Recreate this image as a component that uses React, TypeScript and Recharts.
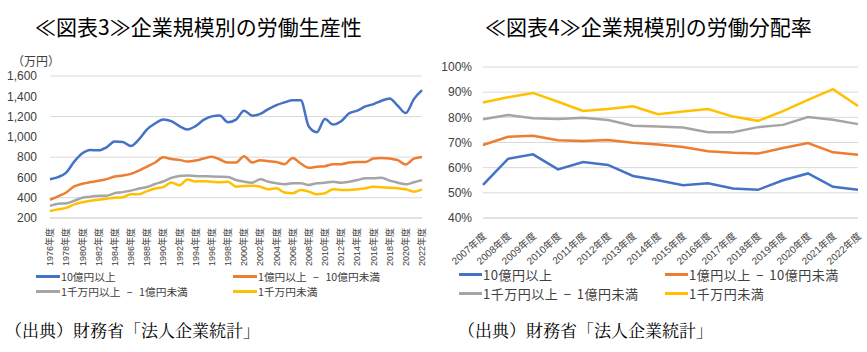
import React from 'react';
import { LineChart, Line, XAxis, YAxis, CartesianGrid } from 'recharts';

const seriesNames = ['10億円以上', '1億円以上 − 10億円未満', '1千万円以上 − 1億円未満', '1千万円未満'];
const seriesColors = ['#4472C4', '#ED7D31', '#A5A5A5', '#FFC000'];

// Chart 3: labour productivity (万円)
const years3 = [
  1976, 1977, 1978, 1979, 1980, 1981, 1982, 1983, 1984, 1985, 1986, 1987, 1988, 1989, 1990, 1991,
  1992, 1993, 1994, 1995, 1996, 1997, 1998, 1999, 2000, 2001, 2002, 2003, 2004, 2005, 2006, 2007,
  2008, 2009, 2010, 2011, 2012, 2013, 2014, 2015, 2016, 2017, 2018, 2019, 2020, 2021, 2022,
];
const large3 = [
  583, 603, 648, 756, 838, 871, 867, 897, 953, 949, 910, 975, 1073, 1132, 1172, 1155,
  1106, 1073, 1106, 1167, 1202, 1210, 1144, 1170, 1258, 1209, 1226, 1274, 1313, 1340, 1362, 1362,
  1102, 1046, 1177, 1121, 1154, 1232, 1258, 1300, 1323, 1356, 1379, 1307, 1235, 1372, 1460,
];
const mid3 = [
  380, 413, 452, 511, 537, 554, 567, 583, 609, 619, 635, 668, 707, 747, 799, 782,
  773, 756, 766, 786, 803, 777, 747, 747, 809, 747, 770, 760, 753, 731, 792, 737,
  695, 705, 711, 731, 731, 747, 753, 753, 786, 792, 786, 770, 727, 786, 802,
];
const small3 = [
  320, 340, 345, 370, 400, 410, 420, 420, 445, 455, 470, 490, 505, 535, 560, 595,
  615, 620, 615, 612, 610, 607, 604, 574, 558, 548, 581, 558, 542, 532, 542, 542,
  526, 542, 548, 558, 548, 558, 574, 591, 591, 597, 568, 548, 532, 552, 574,
];
const tiny3 = [
  270, 285, 300, 335, 355, 370, 380, 390, 400, 405, 435, 435, 465, 490, 505, 550,
  522, 580, 560, 563, 558, 552, 558, 509, 516, 519, 509, 483, 493, 451, 444, 477,
  460, 434, 444, 483, 477, 477, 483, 493, 509, 503, 499, 493, 483, 460, 483,
];
const ticks3 = [200, 400, 600, 800, 1000, 1200, 1400, 1600];

// Chart 4: labour share (%)
const years4 = [2007, 2008, 2009, 2010, 2011, 2012, 2013, 2014, 2015, 2016, 2017, 2018, 2019, 2020, 2021, 2022];
const large4 = [53.2, 63.5, 65.3, 59.3, 62.2, 61.1, 56.7, 55.0, 53.0, 53.8, 51.7, 51.2, 55.0, 57.7, 52.4, 51.2];
const mid4 = [69.0, 72.3, 72.7, 70.9, 70.6, 71.0, 69.9, 69.2, 68.2, 66.5, 65.9, 65.6, 67.8, 69.8, 66.1, 65.1];
const small4 = [79.2, 80.9, 79.6, 79.3, 79.8, 78.9, 76.7, 76.4, 76.0, 74.1, 74.1, 76.1, 77.0, 80.1, 79.0, 77.3];
const tiny4 = [85.9, 88.0, 89.7, 86.2, 82.5, 83.3, 84.4, 81.2, 82.3, 83.3, 80.3, 78.6, 82.5, 86.9, 91.2, 84.5];
const ticks4 = [40, 50, 60, 70, 80, 90, 100];

const data3 = years3.map((y, i) => ({ label: `${y}年度`, s0: large3[i], s1: mid3[i], s2: small3[i], s3: tiny3[i] }));
const data4 = years4.map((y, i) => ({ label: `${y}年度`, s0: large4[i], s1: mid4[i], s2: small4[i], s3: tiny4[i] }));

const SANS = '"Liberation Sans", Arial, "Noto Sans CJK JP", sans-serif';
const CJK = '"Noto Sans CJK JP", sans-serif';

const VTick = (props: any) => {
  const { x, y, payload } = props;
  return (
    <g transform={`translate(${x},${y + 2})`}>
      <text transform="rotate(-90)" textAnchor="end" dy="0.35em" fontSize={9} fill="#404040" fontFamily={SANS}>
        {payload.value}
      </text>
    </g>
  );
};

const DTick = (props: any) => {
  const { x, y, payload } = props;
  return (
    <g transform={`translate(${x + 4},${y + 11})`}>
      <text transform="rotate(-42)" textAnchor="end" fontSize={10} fill="#404040" fontFamily={SANS}>
        {payload.value}
      </text>
    </g>
  );
};

type LegendProps = {
  left: number;
  colX: number[];
  rowY: number[];
  fontSize: number;
  markerW: number;
  wordSpacing: number;
  letterSpacing: number;
};
const HtmlLegend = ({ left, colX, rowY, fontSize, markerW, wordSpacing, letterSpacing }: LegendProps) => (
  <>
    {seriesNames.map((n, i) => (
      <div
        key={n}
        style={{
          position: 'absolute',
          left: left + colX[i % 2],
          top: rowY[Math.floor(i / 2)] - fontSize * 0.55,
          height: fontSize * 1.1,
          lineHeight: `${fontSize * 1.1}px`,
          display: 'flex',
          alignItems: 'center',
          fontSize,
          fontFamily: CJK,
          color: '#404040',
          whiteSpace: 'pre',
          wordSpacing,
          letterSpacing,
        }}
      >
        <span style={{ display: 'inline-block', width: markerW, height: 3, background: seriesColors[i], marginRight: 1 }} />
        <span>{n}</span>
      </div>
    ))}
  </>
);

const Title = ({ left, text }: { left: number; text: string }) => (
  <div
    style={{
      position: 'absolute',
      left,
      top: 12,
      fontSize: 21,
      lineHeight: '28px',
      fontFamily: CJK,
      color: '#000',
      whiteSpace: 'nowrap',
    }}
  >
    {text}
  </div>
);

const Source = ({ left }: { left: number }) => (
  <div
    style={{
      position: 'absolute',
      left,
      top: 318,
      fontSize: 17,
      lineHeight: '24px',
      fontFamily: '"Noto Serif CJK JP", "Noto Sans CJK JP", serif',
      color: '#000',
      whiteSpace: 'nowrap',
    }}
  >
    （出典）財務省「法人企業統計」
  </div>
);

export default function App() {
  return (
    <div style={{ position: 'fixed', left: 0, top: 0, width: 867, height: 352, background: '#fff', overflow: 'hidden' }}>
      <Title left={35} text="≪図表3≫企業規模別の労働生産性" />
      <Title left={485} text="≪図表4≫企業規模別の労働分配率" />
      <div style={{ position: 'absolute', left: 12, top: 52, fontSize: 12, fontFamily: CJK, color: '#404040' }}>（万円）</div>

      <div style={{ position: 'absolute', left: 0, top: 0 }}>
        <LineChart width={430} height={300} data={data3} margin={{ top: 76, right: 8, bottom: 30, left: 0 }}>
          <CartesianGrid vertical={false} stroke="#d9d9d9" />
          <XAxis dataKey="label" interval={1} tick={<VTick />} tickLine={false} axisLine={{ stroke: '#d9d9d9' }} height={52} />
          <YAxis
            domain={[200, 1600]}
            ticks={ticks3}
            width={50}
            tickLine={false}
            axisLine={false}
            tickFormatter={(v: number) => v.toLocaleString('en-US')}
            tick={{ fontSize: 12, fill: '#404040', fontFamily: SANS, dx: -5 }}
          />
          {['s0', 's1', 's2', 's3'].map((k, i) => (
            <Line key={k} dataKey={k} type="monotone" stroke={seriesColors[i]} strokeWidth={2.5} dot={false} isAnimationActive={false} />
          ))}
        </LineChart>
      </div>
      <HtmlLegend left={0} colX={[36, 233]} rowY={[277, 292]} fontSize={10.7} markerW={24} wordSpacing={4} letterSpacing={0} />

      <div style={{ position: 'absolute', left: 430, top: 0 }}>
        <LineChart width={437} height={300} data={data4} margin={{ top: 67, right: 9, bottom: 30, left: 0 }}>
          <CartesianGrid vertical={false} stroke="#d9d9d9" />
          <XAxis dataKey="label" interval={0} tick={<DTick />} tickLine={false} axisLine={{ stroke: '#d9d9d9' }} height={52} />
          <YAxis
            domain={[40, 100]}
            ticks={ticks4}
            width={53}
            tickLine={false}
            axisLine={false}
            tickFormatter={(v: number) => `${v}%`}
            tick={{ fontSize: 12, fill: '#404040', fontFamily: SANS, dx: -3 }}
          />
          {['s0', 's1', 's2', 's3'].map((k, i) => (
            <Line key={k} dataKey={k} type="linear" stroke={seriesColors[i]} strokeWidth={2.5} dot={false} isAnimationActive={false} />
          ))}
        </LineChart>
      </div>
      <HtmlLegend left={430} colX={[29, 235]} rowY={[275, 294]} fontSize={13} markerW={23} wordSpacing={2} letterSpacing={0.5} />

      <Source left={5} />
      <Source left={458} />
    </div>
  );
}
